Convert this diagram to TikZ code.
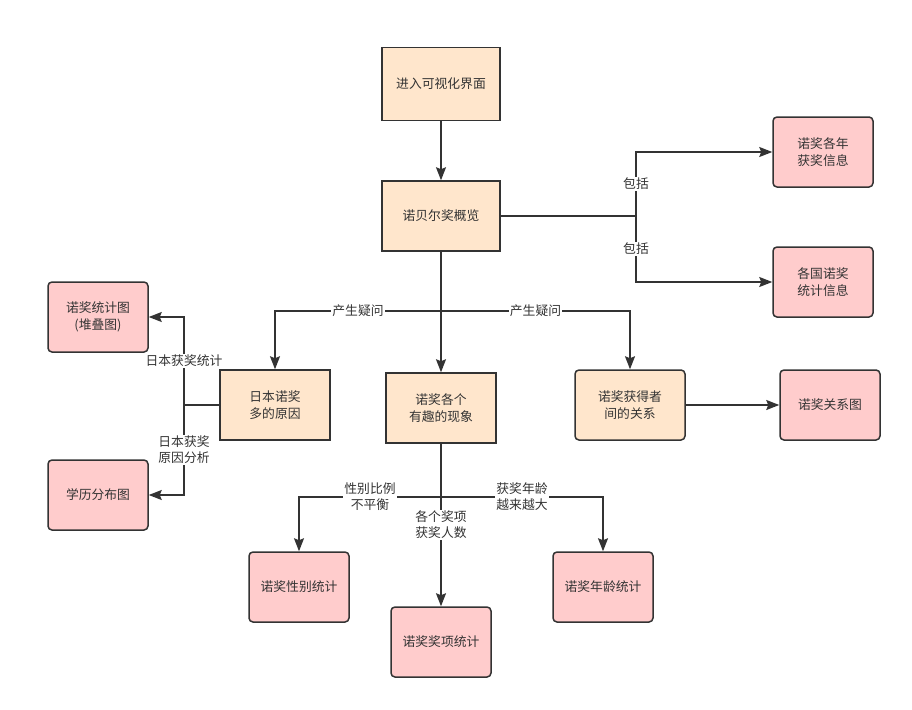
\documentclass[tikz,border=0pt]{standalone}
\usepackage{fontspec}
\setmainfont{Noto Sans CJK SC}
\usetikzlibrary{arrows.meta}
\definecolor{orfill}{HTML}{FFE6CC}
\definecolor{pkfill}{HTML}{FFCCCC}
\definecolor{strk}{HTML}{333333}
\definecolor{txt}{HTML}{333333}
\begin{document}
\begin{tikzpicture}[x=1pt,y=-1pt,
  box/.style={draw=strk, line width=1.5pt, text=txt, font=\fontsize{12.8}{16.5}\selectfont, align=center, inner sep=0pt},
  obox/.style={box, fill=orfill},
  orbox/.style={box, fill=orfill, rounded corners=4pt},
  pbox/.style={box, fill=pkfill, rounded corners=4pt},
  conn/.style={draw=strk, line width=1.5pt},
  arr/.style={conn, -{Stealth[length=13pt,width=10pt,inset=2pt]}},
  lab/.style={fill=white, text=txt, font=\fontsize{12.8}{16}\selectfont, align=center, inner sep=1pt}]
\useasboundingbox (0,0) rectangle (912,709);
\fill[white] (0,0) rectangle (912,709);

\node[obox, minimum width=118pt, minimum height=73pt] (view) at (441,84) {进入可视化界面};
\node[obox, minimum width=118pt, minimum height=70pt] (overview) at (441,216) {诺贝尔奖概览};
\node[pbox, minimum width=100pt, minimum height=70pt] (yr) at (823,152) {诺奖各年\\获奖信息};
\node[pbox, minimum width=100pt, minimum height=70pt] (nat) at (823,282) {各国诺奖\\统计信息};
\node[obox, minimum width=110pt, minimum height=70pt] (japan) at (275,405) {日本诺奖\\多的原因};
\node[obox, minimum width=110pt, minimum height=70pt] (phen) at (441,408) {诺奖各个\\有趣的现象};
\node[orbox, minimum width=110pt, minimum height=70pt] (rel) at (630,405) {诺奖获得者\\间的关系};
\node[pbox, minimum width=100pt, minimum height=70pt] (graph) at (830,405) {诺奖关系图};
\node[pbox, minimum width=100pt, minimum height=70pt] (stat) at (98,317) {诺奖统计图\\(堆叠图)};
\node[pbox, minimum width=100pt, minimum height=70pt] (study) at (98,495) {学历分布图};
\node[pbox, minimum width=100pt, minimum height=70pt] (gender) at (299,587) {诺奖性别统计};
\node[pbox, minimum width=100pt, minimum height=70pt] (awards) at (441,642) {诺奖奖项统计};
\node[pbox, minimum width=100pt, minimum height=70pt] (age) at (603,587) {诺奖年龄统计};

\coordinate (j1) at (636,216);
\coordinate (j2) at (441,311);
\coordinate (j3) at (184,405);
\coordinate (j4) at (441,497);

\draw[arr] (view) -- (overview);
\draw[conn] (overview.east) -- (j1);
\draw[arr] (j1) |- node[lab, pos=0.25] {包括} (yr.west);
\draw[arr] (j1) |- node[lab, pos=0.25] {包括} (nat.west);

\draw[arr] (overview) -- (phen);
\draw[arr] (j2) -| node[lab, pos=0.25] {产生疑问} (japan.north);
\draw[arr] (j2) -| node[lab, pos=0.25] {产生疑问} (rel.north);

\draw[conn] (japan.west) -- (j3);
\draw[arr] (j3) |- node[lab, pos=0.25] {日本获奖统计} (stat.east);
\draw[arr] (j3) |- node[lab, pos=0.25] {日本获奖\\原因分析} (study.east);

\draw[arr] (rel) -- (graph);

\draw[arr] (phen) -- node[lab, pos=0.5] {各个奖项\\获奖人数} (awards);
\draw[arr] (j4) -| node[lab, pos=0.25] {性别比例\\不平衡} (gender.north);
\draw[arr] (j4) -| node[lab, pos=0.25] {获奖年龄\\越来越大} (age.north);
\end{tikzpicture}
\end{document}
